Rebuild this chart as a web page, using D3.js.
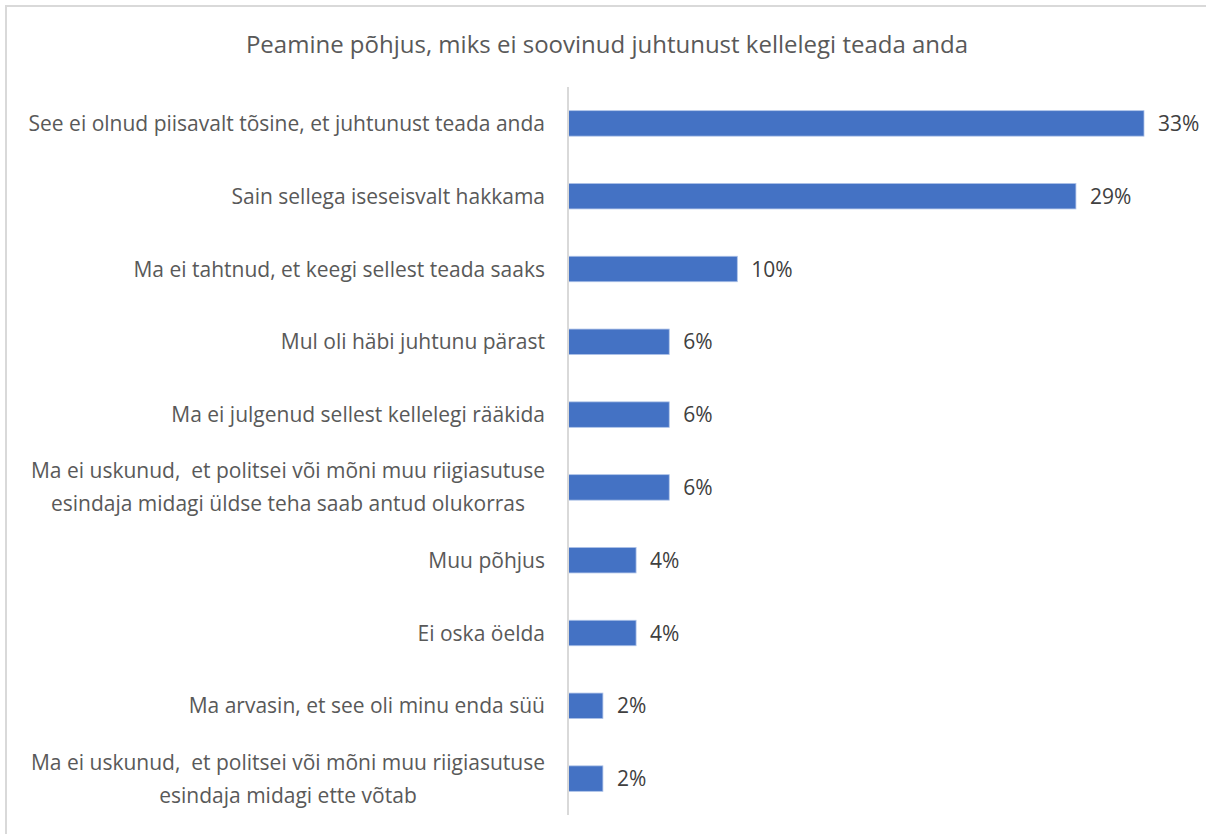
<!DOCTYPE html>
<html><head><meta charset="utf-8">
<script src="https://cdn.jsdelivr.net/npm/d3@7"></script>
<style>html,body{margin:0;padding:0;background:#fff;overflow:hidden}</style>
</head><body>
<script>
const title = "Peamine põhjus, miks ei soovinud juhtunust kellelegi teada anda";
const categories = [
  ["See ei olnud piisavalt tõsine, et juhtunust teada anda"],
  ["Sain sellega iseseisvalt hakkama"],
  ["Ma ei tahtnud, et keegi sellest teada saaks"],
  ["Mul oli häbi juhtunu pärast"],
  ["Ma ei julgenud sellest kellelegi rääkida"],
  ["Ma ei uskunud,  et politsei või mõni muu riigiasutuse", "esindaja midagi üldse teha saab antud olukorras"],
  ["Muu põhjus"],
  ["Ei oska öelda"],
  ["Ma arvasin, et see oli minu enda süü"],
  ["Ma ei uskunud,  et politsei või mõni muu riigiasutuse", "esindaja midagi ette võtab"]
];
const values = [0.330, 0.291, 0.097, 0.058, 0.058, 0.058, 0.039, 0.039, 0.020, 0.020];

const W = 1206, H = 834;
const svg = d3.select("body").append("svg").attr("width", W).attr("height", H)
  .style("font-family", "'Open Sans', sans-serif");

svg.append("rect").attr("x", 6).attr("y", 6).attr("width", W + 10).attr("height", H + 10)
  .attr("fill", "#fff").attr("stroke", "#d9d9d9").attr("stroke-width", 2);

svg.append("text").attr("x", 607).attr("y", 53).attr("text-anchor", "middle")
  .attr("font-size", 24).attr("fill", "#595959").text(title);

const idx = d3.range(values.length);
const x = d3.scaleLinear().domain([0, 0.33]).range([568, 1144]);
const y = d3.scaleBand().domain(idx).range([87, 815]).paddingInner(0.65).paddingOuter(0.325);
const fmt = d3.format(".0%");

svg.selectAll("rect.bar").data(idx).join("rect").attr("class", "bar")
  .attr("x", x(0)).attr("y", i => y(i))
  .attr("width", i => x(values[i]) - x(0)).attr("height", y.bandwidth())
  .attr("fill", "#4472C4").attr("stroke", "#aec3e8").attr("stroke-width", 0.8);

svg.append("line").attr("x1", x(0)).attr("x2", x(0)).attr("y1", 87).attr("y2", 815)
  .attr("stroke", "#d9d9d9").attr("stroke-width", 2);

svg.selectAll("text.val").data(idx).join("text").attr("class", "val")
  .attr("x", i => x(values[i]) + 14).attr("y", i => y(i) + y.bandwidth() / 2)
  .attr("dy", "0.36em").attr("font-size", 21).attr("fill", "#404040")
  .text(i => fmt(values[i]));

const lab = svg.selectAll("text.cat").data(idx).join("text").attr("class", "cat")
  .attr("text-anchor", "middle").attr("font-size", 21).attr("fill", "#595959")
  .style("white-space", "pre");
lab.each(function(i) {
  const lines = categories[i];
  const n = lines.length, lh = 33;
  const t = d3.select(this);
  t.selectAll("tspan").data(lines).join("tspan")
    .attr("x", 0).attr("y", (d, k) => (k - (n - 1) / 2) * lh)
    .attr("dy", "0.36em").text(d => d);
  let maxW = 0;
  t.selectAll("tspan").each(function() { maxW = Math.max(maxW, this.getComputedTextLength()); });
  t.attr("transform", `translate(${545 - maxW / 2},${y(i) + y.bandwidth() / 2})`);
});
</script>
</body></html>
